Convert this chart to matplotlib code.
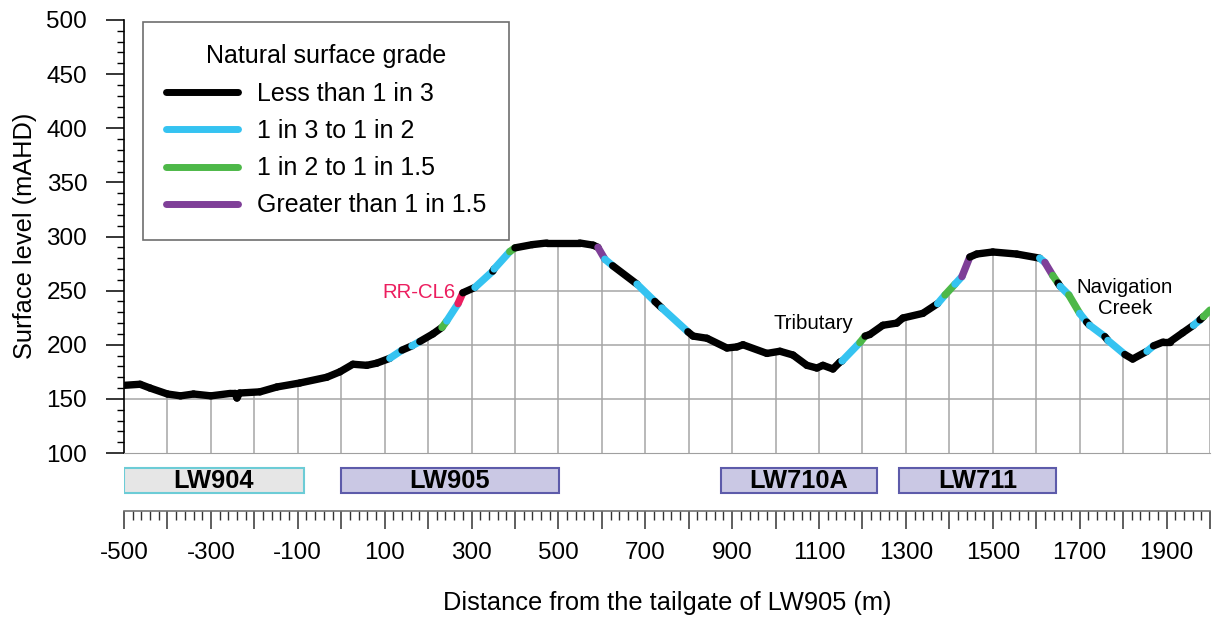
import numpy as np
import matplotlib.pyplot as plt
from matplotlib.collections import LineCollection
from matplotlib.lines import Line2D
from matplotlib.patches import Polygon, Rectangle
from matplotlib.ticker import MultipleLocator

plt.rcParams['font.family'] = ['Liberation Sans', 'DejaVu Sans']

# surface profile: distance (m), level (mAHD), grade class of the segment starting at that point
# 0 = <1 in 3, 1 = 1 in 3 to 1 in 2, 2 = 1 in 2 to 1 in 1.5, 3 = >1 in 1.5, 4 = RR-CL6
dist = [-500, -463, -440, -400, -370, -340, -300, -256, -244, -240, -234, -187, -148, -95, -33, -3,
        27, 59, 82, 112, 140, 163, 181, 211, 232, 243, 269, 280, 308, 349, 352, 388, 400, 440, 473,
        549, 580, 591, 607, 625, 681, 722, 738, 798, 810, 842, 888, 911, 925, 980, 1010, 1040, 1072,
        1095, 1109, 1132, 1148, 1153, 1194, 1206, 1217, 1247, 1279, 1293, 1339, 1373, 1390, 1413,
        1429, 1447, 1463, 1500, 1555, 1608, 1620, 1638, 1650, 1655, 1675, 1700, 1716, 1723, 1758,
        1765, 1804, 1822, 1855, 1870, 1892, 1907, 1937, 1962, 1977, 1985, 2000]
level = [162.5, 163.5, 160, 154.5, 152.8, 154.5, 152.8, 155, 155, 150.8, 155.4, 156.5, 161, 164.7,
         170, 175, 182, 181, 183, 187.5, 195, 199, 203, 210, 216, 222, 238, 248, 253, 268, 270, 286,
         289.5, 292.5, 294, 294, 292, 290, 279, 273, 256, 240, 234, 212, 208, 206, 197, 198, 200, 192,
         194, 190.5, 181, 178.5, 181, 177.6, 184, 185, 202, 208, 209.5, 218, 220, 224.7, 229, 238, 246,
         256, 263, 281, 283.8, 285.7, 283.8, 280, 276, 264, 257, 254, 246, 229, 221, 218, 207.5, 204,
         191, 186.8, 194, 199, 202.5, 202.5, 211, 218, 223, 226, 232]
grade = [0, 0, 0, 0, 0, 0, 0, 0, 0, 0, 0, 0, 0, 0, 0, 0,
         0, 0, 0, 1, 0, 1, 0, 0, 2, 1, 4, 0, 1, 0, 1, 2, 0, 0, 0,
         0, 0, 3, 1, 0, 1, 0, 1, 0, 0, 0, 0, 0, 0, 0, 0, 0, 0,
         0, 0, 0, 0, 1, 2, 0, 0, 0, 0, 0, 0, 1, 2, 1,
         3, 0, 0, 0, 0, 1, 3, 2, 0, 1, 2, 1, 0, 1, 0,
         1, 0, 0, 1, 0, 0, 0, 0, 1, 0, 2, 0]

grade_labels = ['Less than 1 in 3', '1 in 3 to 1 in 2', '1 in 2 to 1 in 1.5', 'Greater than 1 in 1.5']
grade_colors = ['#000000', '#35C3F1', '#4DB848', '#7F3F98', '#EC1E5F']

panels = ['LW904', 'LW905', 'LW710A', 'LW711']
panel_start = [-500, 0, 874, 1284]
panel_end = [-86, 501, 1233, 1645]
panel_face = ['#E6E6E6', '#CAC8E4', '#CAC8E4', '#CAC8E4']
panel_edge = ['#6CCCD6', '#5D5BAA', '#5D5BAA', '#5D5BAA']

labels_txt = ['RR-CL6', 'Tributary', 'Navigation\nCreek']
labels_x = [179, 1086, 1804]
labels_y = [248, 220, 243]
labels_col = ['#EC1E5F', 'black', 'black']

fig = plt.figure(figsize=(12.14, 6.18), dpi=100)
ax = fig.add_axes([124 / 1214, 1 - 453 / 618, 1086 / 1214, 433 / 618])
ax2 = fig.add_axes([124 / 1214, 1 - 511 / 618, 1086 / 1214, 51 / 618], sharex=ax)

ax.set_xlim(-500, 2000)
ax.set_ylim(100, 500)

# grid only below the ground surface
clip = Polygon(list(zip(dist, level)) + [(2000, 90), (-500, 90)], closed=True,
               transform=ax.transData, facecolor='none', edgecolor='none')
ax.add_patch(clip)
vl = ax.vlines(np.arange(-400, 2001, 100), 100, 500, colors='#A6A6A6', lw=1.1, zorder=1)
vl.set_clip_path(clip)
hl = ax.hlines(np.arange(150, 500, 50), -500, 2000, colors='#A6A6A6', lw=1.1, zorder=1)
hl.set_clip_path(clip)

segs = [[(dist[i], level[i]), (dist[i + 1], level[i + 1])] for i in range(len(dist) - 1)]
cols = [grade_colors[g] for g in grade[:-1]]
lc = LineCollection(segs, colors=cols, linewidths=5.3, capstyle='round', joinstyle='round', zorder=3)
ax.add_collection(lc)

for t, x, y, c in zip(labels_txt, labels_x, labels_y, labels_col):
    ax.text(x, y, t, color=c, fontsize=14.7, ha='center', va='center', linespacing=1.1)

for s in ['top', 'right']:
    ax.spines[s].set_visible(False)
ax.spines['bottom'].set_color('#A0A0A0')
ax.spines['left'].set_linewidth(1.2)
ax.yaxis.set_major_locator(MultipleLocator(50))
ax.yaxis.set_minor_locator(MultipleLocator(10))
ax.tick_params(axis='y', which='major', length=13, width=1.1, pad=13.5, labelsize=17.5)
ax.tick_params(axis='y', which='minor', length=5, width=1.0)
ax.tick_params(axis='x', which='both', bottom=False, labelbottom=False)

handles = [Line2D([], [], color=c, lw=5, solid_capstyle='round') for c in grade_colors[:4]]
leg = ax.legend(handles, grade_labels, title='Natural surface grade', loc='upper left',
                bbox_to_anchor=(143 / 1214, 1 - 22 / 618), bbox_transform=fig.transFigure,
                borderaxespad=0, fontsize=18, title_fontsize=18, handlelength=2.9,
                handletextpad=0.75, labelspacing=0.53, borderpad=0.9, fancybox=False,
                framealpha=1, edgecolor='#6E6E6E')
leg.get_frame().set_linewidth(1.2)

# longwall panels and distance axis
ax2.set_ylim(0, 51)
for name, a, b, fc, ec in zip(panels, panel_start, panel_end, panel_face, panel_edge):
    ax2.add_patch(Rectangle((a, 18), b - a, 25, facecolor=fc, edgecolor=ec, lw=1.5))
    ax2.text((a + b) / 2, 30.5, name, fontsize=18.3, fontweight='bold', ha='center', va='center')
for s in ['top', 'right', 'left']:
    ax2.spines[s].set_visible(False)
ax2.spines['bottom'].set_color('#707070')
ax2.spines['bottom'].set_linewidth(1.2)
ax2.set_yticks([])
xt = np.arange(-500, 2001, 100)
ax2.set_xticks(xt)
ax2.set_xticklabels([str(v) if (v + 500) % 200 == 0 else '' for v in xt])
ax2.xaxis.set_minor_locator(MultipleLocator(20))
ax2.tick_params(axis='x', which='major', length=13, width=1.1, color='#333333', pad=9.5, labelsize=17.5)
ax2.tick_params(axis='x', which='minor', length=6.5, width=1.0, color='#333333')
ax2.set_xlim(-500, 2000)

fig.text(667 / 1214, 1 - 603 / 618, 'Distance from the tailgate of LW905 (m)', fontsize=18.3,
         ha='center', va='center')
fig.text(25 / 1214, 1 - 236 / 618, 'Surface level (mAHD)', fontsize=18.3, rotation=90,
         ha='center', va='center')

fig.savefig('out.png', dpi=100)
